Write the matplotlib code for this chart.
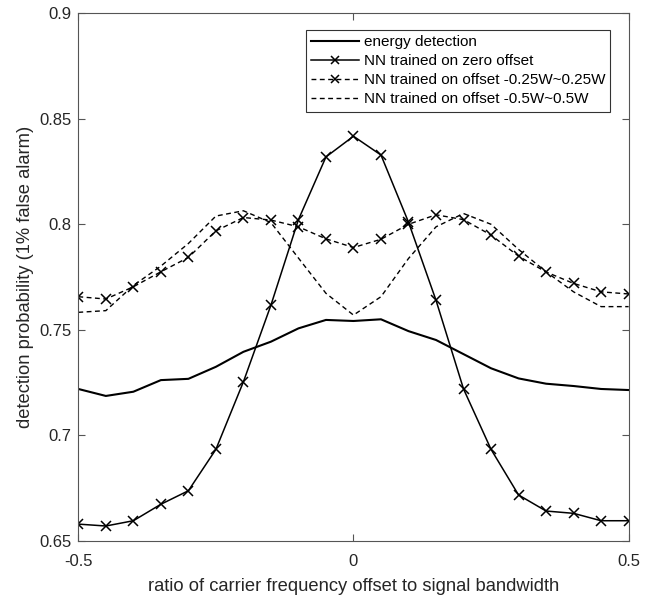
import matplotlib
matplotlib.use("Agg")
import matplotlib.pyplot as plt
import numpy as np

plt.rcParams['font.family'] = ['Liberation Sans', 'DejaVu Sans']

offset = [-0.5, -0.45, -0.4, -0.35, -0.3, -0.25, -0.2, -0.15, -0.1, -0.05, 0.0,
          0.05, 0.1, 0.15, 0.2, 0.25, 0.3, 0.35, 0.4, 0.45, 0.5]

energy = [0.7220, 0.7187, 0.7207, 0.7262, 0.7268, 0.7325, 0.7396, 0.7444, 0.7507, 0.7547, 0.7542,
          0.7550, 0.7494, 0.7452, 0.7385, 0.7318, 0.7270, 0.7245, 0.7234, 0.7220, 0.7215]

nn_zero = [0.658, 0.6571, 0.6596, 0.6674, 0.6738, 0.6934, 0.7254, 0.7617, 0.8022, 0.8319, 0.8417,
           0.8328, 0.8010, 0.7640, 0.7220, 0.6934, 0.6718, 0.6642, 0.6631, 0.6596, 0.6596]

nn_025 = [0.7657, 0.7646, 0.7704, 0.7775, 0.7843, 0.7969, 0.8032, 0.8020, 0.7988, 0.7931, 0.7890,
          0.7929, 0.8000, 0.8045, 0.8022, 0.7949, 0.7849, 0.7774, 0.7720, 0.7680, 0.7670]

nn_05 = [0.7583, 0.7591, 0.7710, 0.7802, 0.7909, 0.8039, 0.8064, 0.8008, 0.7840, 0.7673, 0.7570,
         0.7657, 0.7838, 0.7988, 0.8051, 0.8000, 0.7881, 0.7775, 0.7680, 0.7610, 0.7610]

labels = ['energy detection', 'NN trained on zero offset',
          'NN trained on offset -0.25W~0.25W', 'NN trained on offset -0.5W~0.5W']

fig = plt.figure(figsize=(6.61, 5.97), dpi=100)
ax = fig.add_axes([0.1185, 0.0938, 0.951 - 0.1185, 0.978 - 0.0938])

dash = (0, (3.5, 2.5))
ax.plot(offset, energy, color='black', lw=1.5, label=labels[0])
ax.plot(offset, nn_zero, color='black', lw=1.1, marker='x', ms=7, mew=1.1, label=labels[1])
ax.plot(offset, nn_025, color='black', lw=1.0, ls=dash, marker='x', ms=7, mew=1.1, label=labels[2])
ax.plot(offset, nn_05, color='black', lw=1.0, ls=dash, label=labels[3])

ax.set_xlim(-0.5, 0.5)
ax.set_ylim(0.65, 0.9)
ax.set_xticks([-0.5, 0, 0.5])
ax.set_xticklabels(['-0.5', '0', '0.5'])
ax.set_yticks([0.65, 0.7, 0.75, 0.8, 0.85, 0.9])
ax.set_yticklabels(['0.65', '0.7', '0.75', '0.8', '0.85', '0.9'])

grey = '#262626'
for s in ax.spines.values():
    s.set_color('#555555')
    s.set_linewidth(0.8)
ax.tick_params(direction='in', top=True, right=True, length=5, width=0.8,
               colors='#555555', labelcolor=grey, labelsize=12)
ax.tick_params(axis='x', pad=9)
ax.tick_params(axis='y', pad=5)

ax.set_xlabel('ratio of carrier frequency offset to signal bandwidth', fontsize=13.2, color=grey, labelpad=7)
ax.set_ylabel('detection probability (1% false alarm)', fontsize=13.2, color=grey, labelpad=4)

leg = ax.legend(loc='upper right', bbox_to_anchor=(0.967, 0.968), fontsize=11,
                frameon=True, fancybox=False, edgecolor='black', borderpad=0.35,
                labelspacing=0.33, handlelength=3.1, handletextpad=0.33, borderaxespad=0,
                markerscale=0.8)
leg.get_frame().set_linewidth(0.8)

fig.savefig('out.png', dpi=100)
